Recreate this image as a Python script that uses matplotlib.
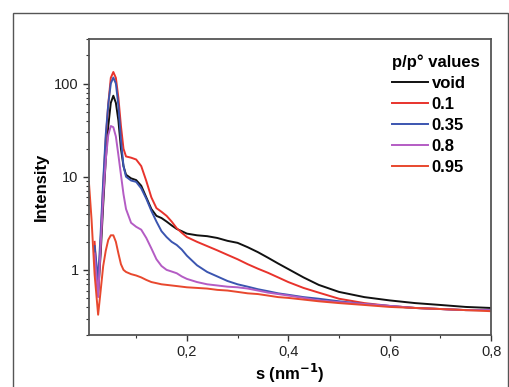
import numpy as np
import matplotlib
matplotlib.use("Agg")
import matplotlib.pyplot as plt
from matplotlib.patches import Rectangle

plt.rcParams['font.family'] = ['Liberation Sans', 'DejaVu Sans']

nan = np.nan
s = [0.007, 0.012, 0.018, 0.025, 0.03, 0.035, 0.04, 0.045, 0.05, 0.055, 0.06, 0.065,
     0.07, 0.075, 0.08, 0.09, 0.1, 0.11, 0.12, 0.13, 0.14, 0.15, 0.16, 0.17, 0.18,
     0.19, 0.2, 0.22, 0.24, 0.26, 0.28, 0.3, 0.32, 0.34, 0.36, 0.38, 0.4, 0.43, 0.46,
     0.5, 0.55, 0.6, 0.65, 0.7, 0.75, 0.8]

void = [nan, nan, 1.5, 0.55, 1.5, 5, 15, 35, 62, 74, 62, 40, 20, 13, 10.5, 9.6, 9.2, 8,
        6, 4.5, 3.8, 3.6, 3.3, 3.0, 2.75, 2.6, 2.45, 2.35, 2.3, 2.2, 2.05, 1.95, 1.75,
        1.55, 1.35, 1.17, 1.02, 0.83, 0.69, 0.58, 0.51, 0.47, 0.44, 0.42, 0.40, 0.39]
p01 = [nan, nan, 2, 0.6, 2, 8, 25, 60, 115, 133, 115, 70, 35, 20, 16.5, 16, 15.3,
       13, 9, 6, 4.6, 4.2, 3.8, 3.3, 2.8, 2.5, 2.25, 2.0, 1.8, 1.62, 1.45, 1.3, 1.15,
       1.03, 0.93, 0.83, 0.74, 0.64, 0.57, 0.49, 0.44, 0.41, 0.39, 0.38, 0.37, 0.37]
p035 = [nan, nan, 1.8, 0.78, 2.5, 9, 28, 60, 100, 116, 100, 58, 25, 13, 10, 9.1, 8.8,
        7.5, 5.8, 4.3, 3.3, 2.6, 2.25, 2.0, 1.85, 1.65, 1.42, 1.12, 0.95, 0.85, 0.76,
        0.7, 0.66, 0.62, 0.59, 0.56, 0.54, 0.51, 0.49, 0.46, 0.43, 0.41, 0.39, 0.38,
        0.37, 0.37]
p08 = [nan, nan, 1.5, 0.51, 1.8, 6, 15, 28, 35, 34, 27, 17, 10.5, 6.5, 4.5, 3.2, 2.9, 2.7,
       2.2, 1.7, 1.3, 1.1, 1.0, 0.96, 0.92, 0.85, 0.8, 0.74, 0.70, 0.68, 0.66, 0.65,
       0.63, 0.6, 0.57, 0.55, 0.53, 0.5, 0.47, 0.45, 0.43, 0.41, 0.39, 0.38, 0.37, 0.37]
p095 = [8.5, 3.5, 0.9, 0.33, 0.6, 1.1, 1.6, 2.1, 2.35, 2.35, 2.0, 1.5, 1.15, 1.0, 0.95,
        0.9, 0.87, 0.83, 0.78, 0.74, 0.72, 0.70, 0.69, 0.68, 0.67, 0.66, 0.65, 0.64,
        0.63, 0.61, 0.6, 0.58, 0.56, 0.55, 0.53, 0.51, 0.5, 0.48, 0.46, 0.44, 0.42,
        0.40, 0.39, 0.38, 0.37, 0.36]

labels = ['void', '0.1', '0.35', '0.8', '0.95']
colors = ['#111111', '#e8332c', '#3b55b0', '#b45cc4', '#e8482e']
series = [void, p01, p035, p08, p095]

xticks = [0.2, 0.4, 0.6, 0.8]
xticklabels = ['0,2', '0,4', '0,6', '0,8']
yticks = [1, 10, 100]
yticklabels = ['1', '10', '100']

fig = plt.figure(figsize=(5.10, 3.87), dpi=100)
ax = fig.add_axes([0.1745, 0.1344, 0.7885, 0.7646])

for y, lab, c in zip(series, labels, colors):
    ax.plot(s, y, color=c, lw=1.4, label=lab)

ax.set_yscale('log')
ax.set_xlim(0.007, 0.8)
ax.set_ylim(0.2, 300)
ax.set_xticks(xticks)
ax.set_xticklabels(xticklabels)
ax.set_xticks([0.1, 0.3, 0.5, 0.7], minor=True)
ax.set_yticks(yticks)
ax.set_yticklabels(yticklabels)
ax.tick_params(axis='both', which='major', labelsize=10.5, length=4, width=1, direction='out', colors='#333333')
ax.tick_params(axis='both', which='minor', length=2.5, width=0.8, direction='out', colors='#333333')
for t in ax.get_xticklabels() + ax.get_yticklabels():
    t.set_color('#222222')
for sp in ax.spines.values():
    sp.set_color('#555555')
    sp.set_linewidth(1.3)

ax.set_ylabel('Intensity', fontsize=12, fontweight='bold', labelpad=4)
ax.set_xlabel('s (nm$^{\\mathbf{-1}}$)', fontsize=12, fontweight='bold', labelpad=2)

leg = ax.legend(title='p/p° values', loc='upper right', frameon=False, fontsize=12,
                title_fontsize=12, handlelength=2.2, handletextpad=0.2,
                labelspacing=0.36, borderaxespad=0.5, alignment='left',
                bbox_to_anchor=(1.008, 1.0))
leg.get_title().set_fontweight('bold')
for t in leg.get_texts():
    t.set_fontweight('bold')

fig.patches.append(Rectangle((13 / 510, -0.05), 495 / 510, 1 - 13 / 387 + 0.05,
                             transform=fig.transFigure, fill=False,
                             edgecolor='#555555', lw=1.0))

fig.savefig('out.png', dpi=100)
